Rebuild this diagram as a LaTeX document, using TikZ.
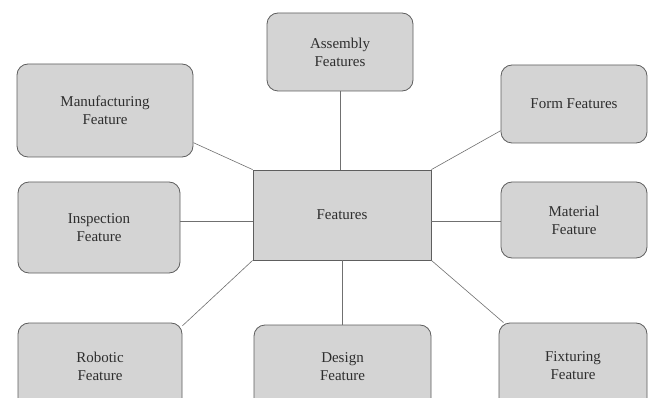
\documentclass[tikz,border=0pt]{standalone}
\usepackage{fontspec}
\setmainfont{Liberation Serif}
\usepackage{xcolor}
\definecolor{cFill}{HTML}{D4D4D4}
\definecolor{cEdge}{HTML}{5E5E5E}
\definecolor{cLink}{HTML}{707070}
\definecolor{cText}{HTML}{2E2E2E}
\usepackage{tikz}
\tikzset{
  feat-box/.style={draw=cEdge,thick,fill=cFill,rounded corners=11pt,
    inner sep=0pt,align=center,text=cText,
    font=\fontsize{15}{18}\selectfont},
  feat-core/.style={feat-box,rounded corners=0pt},
  link/.style={draw=cLink,semithick},
}

\begin{document}
\begin{tikzpicture}[x=1pt,y=-1pt]
  \clip (0,0) rectangle (653,398);
  \fill[white] (0,0) rectangle (653,398);
  % centre
  \node[feat-core,minimum width=178pt,minimum height=90pt] (feat) at (342,215) {Features};
  % ring of feature kinds
  \node[feat-box,minimum width=146pt,minimum height=78pt] (asm) at (340,52) {Assembly\\Features};
  \node[feat-box,minimum width=176pt,minimum height=93pt] (manu) at (105,110.5) {Manufacturing\\Feature};
  \node[feat-box,minimum width=146pt,minimum height=78pt] (form) at (574,104) {Form Features};
  \node[feat-box,minimum width=162pt,minimum height=91pt] (insp) at (99,227.5) {Inspection\\Feature};
  \node[feat-box,minimum width=146pt,minimum height=76pt] (mat) at (574,220) {Material\\Feature};
  \node[feat-box,minimum width=164pt,minimum height=86pt] (robot) at (100,366) {Robotic\\Feature};
  \node[feat-box,minimum width=177pt,minimum height=84pt] (design) at (342.5,367) {Design\\Feature};
  \node[feat-box,minimum width=148pt,minimum height=86pt] (fix) at (573,366) {Fixturing\\Feature};
  % links
  \draw[link] (asm.south) -- (feat.north -| asm.south);
  \draw[link] (manu.-20) -- (feat.north west);
  \draw[link] (form.200) -- (feat.north east);
  \draw[link] (insp.east |- 0,221) -- (feat.west |- 0,221);
  \draw[link] (mat.west |- 0,221) -- (feat.east |- 0,221);
  \draw[link] (robot.26) -- (feat.south west);
  \draw[link] (design.north) -- (design.north |- feat.south);
  \draw[link] (fix.148) -- (feat.south east);
\end{tikzpicture}
\end{document}
